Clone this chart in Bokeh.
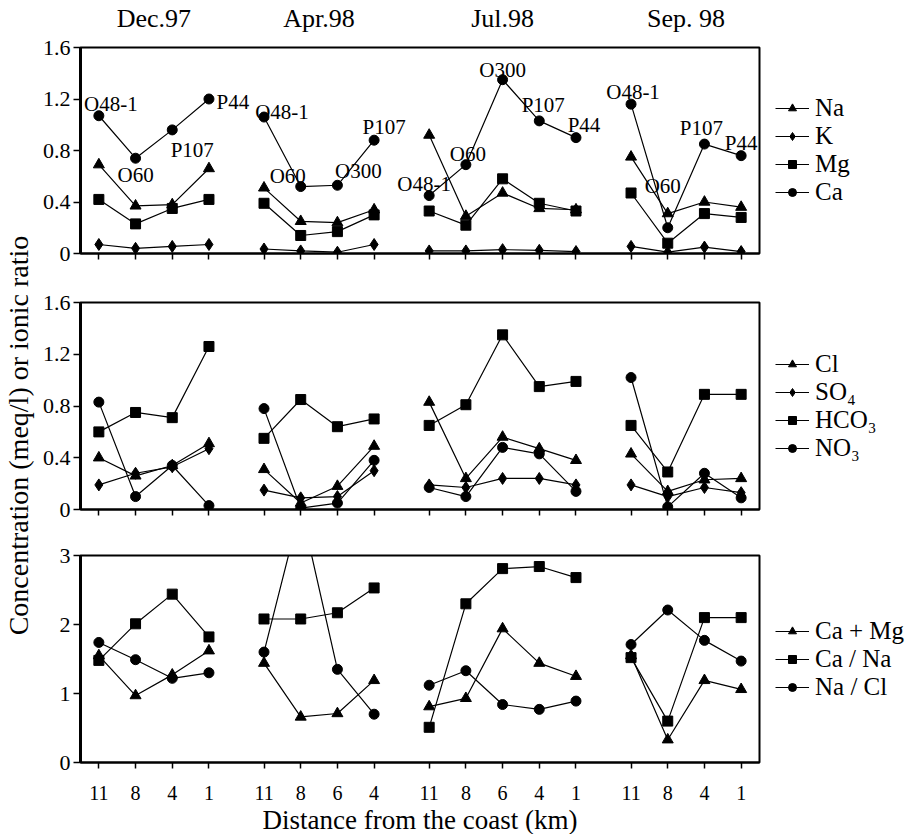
from bokeh.plotting import figure
from bokeh.models import FactorRange, CategoricalAxis, Range1d, Legend, LegendItem, FixedTicker
from bokeh.layouts import column, row
from bokeh.core.properties import value
from bokeh.embed import file_html
from bokeh.resources import INLINE

# ---------------- data ----------------
months = ["Dec.97", "Apr.98", "Jul.98", "Sep. 98"]
dist_dec = ["11", "8", "4", "1"]
dist_apr = ["11", "8", "6", "4"]
dist_jul = ["11", "8", "6", "4", "1"]
dist_sep = ["11", "8", "4", "1"]

sites_dec = ["O48-1", "O60", "P107", "P44"]
sites_apr = ["O48-1", "O60", "O300", "P107"]
sites_jul = ["O48-1", "O60", "O300", "P107", "P44"]
sites_sep = ["O48-1", "O60", "P107", "P44"]

# cations (meq/l), order: Dec, Apr, Jul, Sep
na = [0.69, 0.37, 0.38, 0.66, 0.51, 0.25, 0.24, 0.34, 0.92, 0.29, 0.47, 0.35, 0.34, 0.75, 0.31, 0.40, 0.36]
k = [0.07, 0.04, 0.055, 0.07, 0.035, 0.02, 0.01, 0.07, 0.02, 0.02, 0.03, 0.025, 0.015, 0.055, 0.01, 0.05, 0.015]
mg = [0.42, 0.23, 0.35, 0.42, 0.39, 0.14, 0.17, 0.30, 0.33, 0.22, 0.58, 0.39, 0.33, 0.47, 0.08, 0.31, 0.28]
ca = [1.07, 0.74, 0.96, 1.20, 1.06, 0.52, 0.53, 0.88, 0.45, 0.69, 1.35, 1.03, 0.90, 1.16, 0.20, 0.85, 0.76]

# anions (meq/l)
cl = [0.40, 0.26, 0.34, 0.51, 0.31, 0.05, 0.18, 0.49, 0.83, 0.24, 0.56, 0.47, 0.38, 0.43, 0.14, 0.23, 0.24]
so4 = [0.19, 0.28, 0.33, 0.47, 0.15, 0.09, 0.10, 0.30, 0.19, 0.17, 0.24, 0.24, 0.19, 0.19, 0.10, 0.17, 0.13]
hco3 = [0.60, 0.75, 0.71, 1.26, 0.55, 0.85, 0.64, 0.70, 0.65, 0.81, 1.35, 0.95, 0.99, 0.65, 0.29, 0.89, 0.89]
no3 = [0.83, 0.10, 0.34, 0.03, 0.78, 0.01, 0.05, 0.38, 0.17, 0.10, 0.48, 0.43, 0.14, 1.02, 0.02, 0.28, 0.09]

# ratios
camg = [1.55, 0.97, 1.27, 1.62, 1.44, 0.66, 0.71, 1.19, 0.81, 0.93, 1.94, 1.44, 1.25, 1.55, 0.33, 1.19, 1.06]
cana = [1.48, 2.01, 2.44, 1.82, 2.08, 2.08, 2.17, 2.53, 0.51, 2.30, 2.81, 2.84, 2.68, 1.52, 0.60, 2.10, 2.10]
nacl = [1.74, 1.49, 1.22, 1.30, 1.60, 3.70, 1.35, 0.70, 1.12, 1.33, 0.84, 0.77, 0.89, 1.71, 2.21, 1.77, 1.47]

y_ticks_conc = [0, 0.4, 0.8, 1.2, 1.6]
y_ticks_ratio = [0, 1, 2, 3]

# ---------------- styles ----------------
FONT = "Liberation Serif"
label_dx = [12, 0, 20, 24, 18, -13, 21, 10, -5, 2, 0, 4, 8, 2, -5, -3, 0]
label_dy = [-12, 17, 20, 3, -5, -11, -14, -13, -12, -11, -10, -16, -13, -12, -42, -16, -13]

groups = [dist_dec, dist_apr, dist_jul, dist_sep]
factors = [(m, d) for m, ds in zip(months, groups) for d in ds]
sites = sites_dec + sites_apr + sites_jul + sites_sep
x_range = FactorRange(factors=factors, group_padding=0.5, range_padding=0.0)

slices = []
start = 0
for ds in groups:
    slices.append((start, start + len(ds)))
    start += len(ds)

MARK = {"triangle": 11, "diamond": 12, "square": 10, "circle": 10}
LEFT = 42


def make_fig(ymax, yticks, border_top, frame_h, border_bottom, show_xlabels):
    p = figure(x_range=x_range, y_range=Range1d(0, ymax),
               frame_width=679, frame_height=frame_h,
               min_border_left=LEFT, min_border_right=135,
               min_border_top=border_top, min_border_bottom=border_bottom,
               output_backend="svg", toolbar_location=None,
               background_fill_color="white", border_fill_color="white")
    p.grid.visible = False
    p.outline_line_color = "black"
    p.outline_line_width = 2
    p.outline_line_alpha = 1.0
    ya = p.yaxis[0]
    ya.ticker = FixedTicker(ticks=yticks)
    ya.major_label_overrides = {t: ("0" if t == 0 else f"{t:g}") for t in yticks}
    ya.minor_tick_line_color = None
    ya.major_tick_in = 0
    ya.major_tick_out = 7
    ya.axis_line_width = 3
    ya.major_tick_line_width = 1.5
    ya.major_label_text_font = FONT
    ya.major_label_text_font_size = "22px"
    ya.major_label_text_color = "black"
    ya.major_label_standoff = 3
    xa = p.xaxis[0]
    xa.axis_line_width = 2
    xa.major_tick_in = 0
    xa.major_tick_out = 6
    xa.major_tick_line_width = 1.5
    xa.minor_tick_line_color = None
    xa.separator_line_color = None
    xa.group_text_font_size = "0px"
    xa.group_text_color = None
    xa.major_label_orientation = "horizontal"
    if show_xlabels:
        xa.major_label_text_font = FONT
        xa.major_label_text_font_size = "20px"
        xa.major_label_text_color = "black"
        xa.major_label_standoff = 17
    else:
        xa.major_label_text_font_size = "0px"
        xa.major_label_text_color = None
        xa.major_label_standoff = 0
    return p


def add_series(p, series):
    items = []
    for label, vals, marker in series:
        rend = []
        for a, b in slices:
            r = p.line(x=factors[a:b], y=vals[a:b], line_color="black", line_width=1.2)
            rend.append(r)
        s = p.scatter(x=factors, y=vals, marker=marker, size=MARK[marker],
                      fill_color="black", line_color="black")
        items.append(LegendItem(label=label, renderers=[rend[0], s]))
    leg = Legend(items=items, location="center_left", border_line_color=None,
                 background_fill_alpha=0, margin=16, padding=0, spacing=0,
                 glyph_width=34, glyph_height=20, label_standoff=6, label_height=20,
                 label_text_font=FONT, label_text_font_size="25px",
                 label_text_color="black")
    p.add_layout(leg, "right")


# ---------------- top panel ----------------
p1 = make_fig(1.6, y_ticks_conc, 38, 206, 20, False)
top_axis = CategoricalAxis(axis_line_color=None, major_tick_line_color=None,
                           minor_tick_line_color=None, major_label_text_font_size="0px",
                           major_label_text_color=None, major_label_standoff=9,
                           separator_line_color=None,
                           group_text_font=FONT, group_text_font_size="26px",
                           group_text_color="black", group_text_font_style="normal")
p1.add_layout(top_axis, "above")
add_series(p1, [("Na", na, "triangle"), ("K", k, "diamond"),
                ("Mg", mg, "square"), ("Ca", ca, "circle")])
p1.text(x=factors, y=ca, text=sites, x_offset=label_dx, y_offset=label_dy,
        text_font=value(FONT), text_font_size=value("21px"), text_color="black",
        text_align="center", text_baseline="middle")

# ---------------- middle panel ----------------
p2 = make_fig(1.6, y_ticks_conc, 29, 207, 20, False)
add_series(p2, [("Cl", cl, "triangle"), ("SO\u2084", so4, "diamond"),
                ("HCO\u2083", hco3, "square"), ("NO\u2083", no3, "circle")])

# ---------------- bottom panel ----------------
p3 = make_fig(3, y_ticks_ratio, 26, 207, 75, True)
add_series(p3, [("Ca + Mg", camg, "triangle"), ("Ca / Na", cana, "square"),
                ("Na / Cl", nacl, "circle")])
p3.xaxis[0].axis_label = "Distance from the coast (km)"
p3.xaxis[0].axis_label_text_font = FONT
p3.xaxis[0].axis_label_text_font_size = "27px"
p3.xaxis[0].axis_label_text_font_style = "normal"
p3.xaxis[0].axis_label_text_color = "black"
p3.xaxis[0].axis_label_standoff = 2

# ---------------- shared y-axis label ----------------
total_h = (38 + 206 + 20) + (29 + 207 + 20) + (26 + 207 + 75)
lab = figure(width=88 - 8 - LEFT, height=total_h, output_backend="svg", toolbar_location=None,
             x_axis_type=None, y_axis_type=None, min_border_left=0, min_border_right=0,
             min_border_top=42, min_border_bottom=0,
             background_fill_color="white", border_fill_color="white",
             title="Concentration (meq/l) or ionic ratio", title_location="left")
lab.outline_line_color = None
lab.grid.visible = False
lab.title.text_font = FONT
lab.title.text_font_size = "28px"
lab.title.text_font_style = "normal"
lab.title.text_color = "black"
lab.title.align = "center"

layout = row(lab, column(p1, p2, p3, spacing=0), spacing=0)
open("out.html", "w").write(file_html(layout, INLINE))
